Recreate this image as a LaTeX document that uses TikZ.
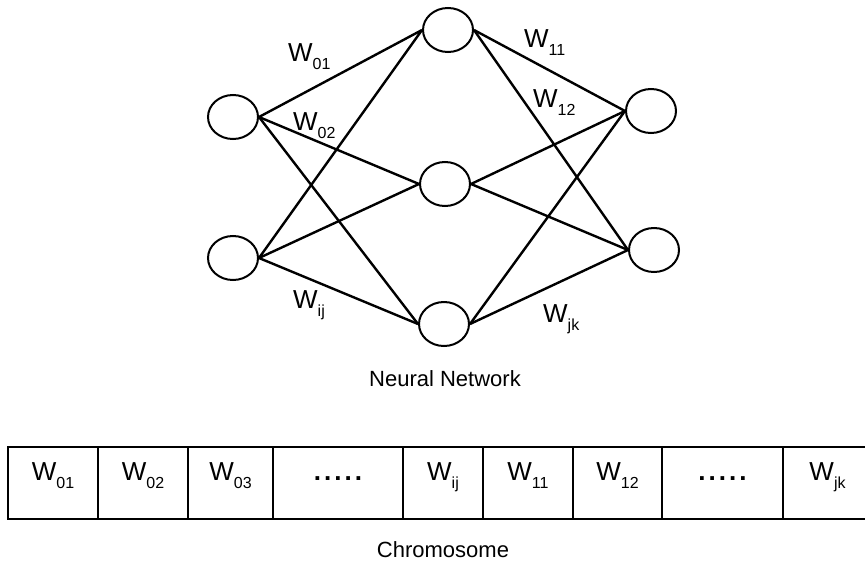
\documentclass[tikz,border=0pt]{standalone}
\usepackage{fontspec}
\setmainfont{Liberation Sans}
\usetikzlibrary{shapes.geometric}

% weight with a lowered index
\newcommand{\wt}[1]{W\raisebox{-8pt}{\fontsize{16}{16}\selectfont #1}}
\newcommand{\dotrow}{{\bfseries .\kern3pt.\kern3pt.\kern3pt.\kern3pt.}}

\begin{document}
\begin{tikzpicture}[x=1pt, y=-1pt,
  neuron/.style={draw, line width=2pt, ellipse, minimum width=50pt, minimum height=44pt, inner sep=0pt},
  link/.style={line width=2.4pt},
  wlabel/.style={anchor=base west, inner sep=0pt, font=\fontsize{26}{26}\selectfont},
  cell/.style={draw, line width=1.8pt, minimum height=72pt, inner sep=0pt, text height=18pt, text depth=24pt, font=\fontsize{26}{26}\selectfont},
  caption/.style={font=\fontsize{22}{22}\selectfont}]
  \useasboundingbox (0,0) rectangle (865,565);

  % network
  \node[neuron] (in1) at (233,117) {};
  \node[neuron] (in2) at (233,258) {};
  \node[neuron] (h1) at (448,30) {};
  \node[neuron] (h2) at (445,184) {};
  \node[neuron] (h3) at (444,324) {};
  \node[neuron] (out1) at (651,111) {};
  \node[neuron] (out2) at (654,250) {};

  \foreach \i in {in1,in2}
    \foreach \h in {h1,h2,h3}
      \draw[link] (\i.east) -- (\h.west);
  \foreach \h in {h1,h2,h3}
    \foreach \o in {out1,out2}
      \draw[link] (\h.east) -- (\o.west);

  \node[wlabel] (w01) at (288,61) {\wt{01}};
  \node[wlabel] (w02) at (293,130) {\wt{02}};
  \node[wlabel] (w11) at (524,47) {\wt{11}};
  \node[wlabel] (w12) at (533,107) {\wt{12}};
  \node[wlabel] (wij) at (293,308) {\wt{ij}};
  \node[wlabel] (wjk) at (543,322) {\wt{jk}};

  \node[caption] (net) at (445,379) {Neural Network};

  % chromosome
  \foreach \x/\w/\t [count=\n] in {53/90pt/\wt{01}, 143/90pt/\wt{02}, 230.5/85pt/\wt{03},
      338/130pt/\dotrow, 443/80pt/\wt{ij}, 528/90pt/\wt{11}, 617.5/89pt/\wt{12},
      722.5/121pt/\dotrow, 827.5/89pt/\wt{jk}}
    \node[cell, minimum width=\w] (c\n) at (\x,483) {\t};

  \node[caption] (chrom) at (443,550) {Chromosome};
\end{tikzpicture}
\end{document}
